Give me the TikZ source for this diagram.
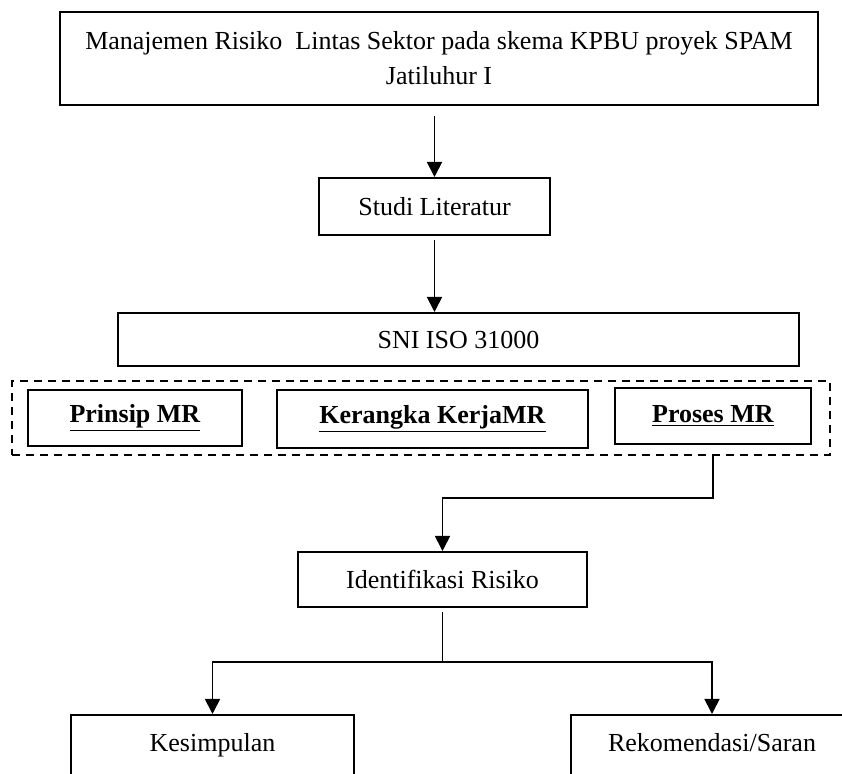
\documentclass[tikz,border=0pt]{standalone}
\usepackage{fontspec}
\setmainfont{Liberation Serif}
\usetikzlibrary{arrows.meta,positioning,calc}

\begin{document}
\begin{tikzpicture}[
    x=0.5pt, y=-0.5pt,
    box/.style={draw, line width=1pt, align=center, inner sep=0pt, font=\fontsize{13}{17.5}\selectfont},
    grp/.style={draw, dash pattern=on 4pt off 3pt, line width=1pt, inner sep=0pt},
    arr/.style={-{Triangle[width=7.5pt,length=7.5pt]}, line width=0.9pt},
    link/.style={line width=0.9pt}
]
\path[use as bounding box, clip] (0,0) rectangle (842,774);
\node[box, minimum width=379pt, minimum height=46.5pt] (topic) at (439,58.5) {Manajemen Risiko~ Lintas Sektor pada skema KPBU proyek SPAM\\Jatiluhur I};
\node[box, minimum width=115.5pt, minimum height=28.5pt] (studi) at (434.5,206.5) {Studi Literatur};
\node[box, minimum width=340.5pt, minimum height=26.5pt] (sni) at (458.5,339.5) {SNI ISO 31000};
\node[grp, minimum width=409pt, minimum height=37pt] (group) at (421,418) {};
\node[box, minimum width=107pt, minimum height=28pt] (prinsip) at (135,418) {\underline{\textbf{Prinsip MR}}};
\node[box, minimum width=155.5pt, minimum height=29pt] (kerangka) at (432.5,419) {\underline{\textbf{Kerangka KerjaMR}}};
\node[box, minimum width=98pt, minimum height=28pt] (proses) at (713,416) {\underline{\textbf{Proses MR}}};
\node[box, minimum width=144.5pt, minimum height=27.5pt] (ident) at (442.5,579.5) {Identifikasi Risiko};
\node[box, anchor=north, minimum width=141.5pt, inner ysep=4pt, text height=14.5pt, text depth=10pt] (kes) at (212.5,714) {Kesimpulan};
\node[box, anchor=north, minimum width=141.5pt, inner ysep=4pt, text height=14.5pt, text depth=10pt] (rek) at (712,714) {Rekomendasi/Saran};

\draw[arr, shorten <=5pt] (topic.south -| studi.north) -- (studi.north);
\draw[arr, shorten <=2pt] (studi.south) -- (studi.south |- sni.north);
\draw[arr] (proses |- group.south) -- ++(0,42) -| (ident.north);
\draw[link, shorten <=2pt] (ident.south) -- ++(0,54) coordinate (split);
\draw[arr] (split) -| (kes.north);
\draw[arr] (split) -| (rek.north);
\end{tikzpicture}
\end{document}
